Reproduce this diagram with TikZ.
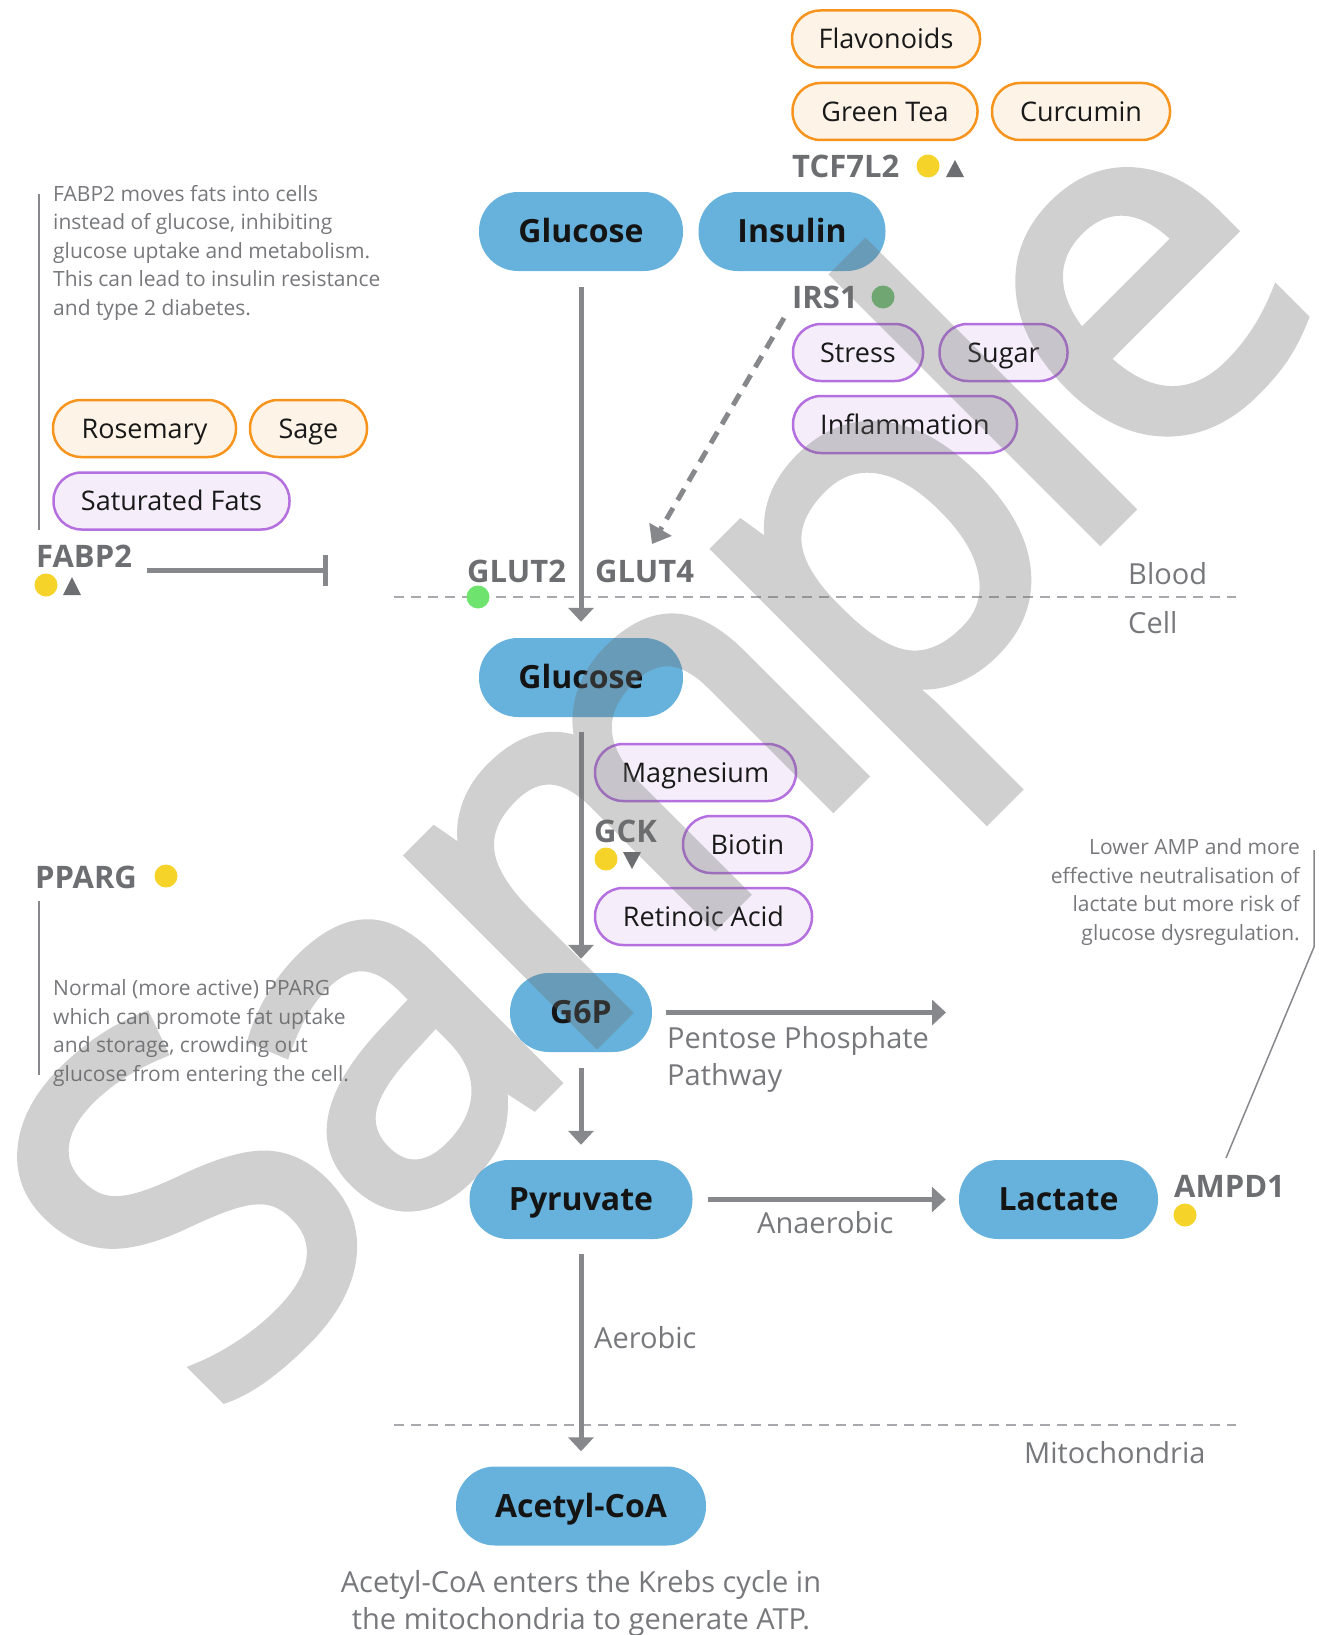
\documentclass[tikz,border=0pt]{standalone}
\usepackage{fontspec}
\setmainfont{Open Sans}
\newfontfamily\wmfont{Open Sans}[FakeBold=2.5, LetterSpace=-4.5]
\usetikzlibrary{arrows.meta}
\definecolor{mainblue}{HTML}{67B2DC}
\definecolor{orangeline}{HTML}{F7941D}
\definecolor{orangefill}{HTML}{FDF3E7}
\definecolor{purpleline}{HTML}{B570E0}
\definecolor{purplefill}{HTML}{F5EEFA}
\definecolor{labelgrey}{HTML}{6D6E71}
\definecolor{notegrey}{HTML}{77787B}
\definecolor{arrowgrey}{HTML}{86888C}
\definecolor{dashgrey}{HTML}{A7A9AC}
\definecolor{dotyellow}{HTML}{F5D328}
\definecolor{dotgreen}{HTML}{72C274}
\definecolor{dotgreenb}{HTML}{6EE46E}
\definecolor{wmgrey}{HTML}{6C6C6C}
\begin{document}
\begin{tikzpicture}[x=1pt,y=-1pt,
 mainnode/.style={fill=mainblue, rounded corners=39pt, minimum height=79pt, inner sep=0pt, text=black!92, font=\fontsize{32}{32}\selectfont\bfseries, text height=22.8pt, text depth=0pt},
 orangepill/.style={draw=orangeline, fill=orangefill, line width=2.5pt, rounded corners=28pt, minimum height=57pt, inner sep=0pt, font=\fontsize{27}{27}\selectfont, text=black!90, text height=19.3pt, text depth=0pt},
 purplepill/.style={orangepill, draw=purpleline, fill=purplefill},
 gene/.style={anchor=base west, inner sep=0pt, text=labelgrey, font=\fontsize{31}{31}\selectfont\bfseries},
 note/.style={anchor=base west, inner sep=0pt, text=notegrey, font=\fontsize{21}{28.5}\selectfont, align=left},
 plain/.style={anchor=base west, inner sep=0pt, text=notegrey, font=\fontsize{29}{37}\selectfont, align=left},
 flow/.style={draw=arrowgrey, line width=5pt, -{Triangle[width=25pt,length=14pt]}},
 dashflow/.style={draw=arrowgrey, line width=5pt, dash pattern=on 13pt off 9pt, -{Triangle[width=25pt,length=17pt]}},
 compart/.style={draw=dashgrey, line width=1.6pt, dash pattern=on 10pt off 7pt},
 leader/.style={draw=arrowgrey, line width=1.5pt},
 ydot/.style={circle, fill=dotyellow, minimum size=23pt, inner sep=0pt},
]
\useasboundingbox (0,0) rectangle (1319,1635);

% compartment lines
\coordinate (bloodL) at (394,597);
\coordinate (bloodR) at (1236,597);
\coordinate (mitoL) at (394,1425);
\coordinate (mitoR) at (1236,1425);
\draw[compart] (bloodL) -- (bloodR);
\draw[compart] (mitoL) -- (mitoR);
\node[plain] (bloodT) at (1128,584) {Blood};
\node[plain] (cellT) at (1128,633) {Cell};
\node[plain] (mitoT) at (1024,1463) {Mitochondria};

% top supplements
\node[orangepill, minimum width=188pt] (flav) at (886,39) {Flavonoids};
\node[orangepill, minimum width=185pt] (gtea) at (885,111.5) {Green Tea};
\node[orangepill, minimum width=178pt] (curc) at (1081,111.5) {Curcumin};
\node[gene] (tcf) at (792,177) {TCF7L2};
\node[ydot] (tcfdot) at (928,166) {};
\fill[labelgrey] (946,177) -- (964,177) -- (955,160) -- cycle;

% main nodes
\node[mainnode, minimum width=204pt] (gluA) at (581,231.5) {Glucose};
\node[mainnode, minimum width=187pt] (ins) at (792,231.5) {Insulin};
\node[mainnode, minimum width=204pt] (gluB) at (581,677.5) {Glucose};
\node[mainnode, minimum width=142pt] (g6p) at (581,1012.5) {G6P};
\node[mainnode, minimum width=223pt] (pyr) at (581,1199.5) {Pyruvate};
\node[mainnode, minimum width=199pt] (lac) at (1058.5,1199.5) {Lactate};
\node[mainnode, minimum width=250pt] (acc) at (581,1506) {Acetyl-CoA};

% IRS1 group
\node[gene] (irs) at (792,308) {IRS1};
\node[circle, fill=dotgreen, minimum size=23pt, inner sep=0pt] (irsdot) at (883,297) {};
\node[purplepill, minimum width=130pt] (stress) at (858,352.5) {Stress};
\node[purplepill, minimum width=128pt] (sugar) at (1003.5,352.5) {Sugar};
\node[purplepill, minimum width=224pt] (infl) at (905,424.5) {Inflammation};

% GLUT
\node[gene] (glut2) at (467,582) {GLUT2};
\node[gene] (glut4) at (595,582) {GLUT4};
\node[circle, fill=dotgreenb, minimum size=23pt, inner sep=0pt] (glutdot) at (478,597) {};

% FABP2 group
\draw[leader] (39,194) -- (39,530);
\node[note] (fabpnote) at (53,315) {FABP2 moves fats into cells\\instead of glucose, inhibiting\\glucose uptake and metabolism.\\This can lead to insulin resistance\\and type 2 diabetes.};
\node[orangepill, minimum width=183pt] (rose) at (144.5,428.5) {Rosemary};
\node[orangepill, minimum width=117pt] (sage) at (308.5,428.5) {Sage};
\node[purplepill, minimum width=236pt] (satf) at (171.5,501) {Saturated Fats};
\node[gene] (fabp) at (36,567) {FABP2};
\node[ydot] (fabpdot) at (46,585) {};
\fill[labelgrey] (63,595) -- (81,595) -- (72,577) -- cycle;
\coordinate (fabpS) at (147,570);
\coordinate (fabpE) at (325,570);
\draw[arrowgrey, line width=5pt] (fabpS) -- (fabpE);
\draw[arrowgrey, line width=5pt] ([yshift=15.5pt]fabpE) -- ([yshift=-15.5pt]fabpE);

% GCK group
\node[purplepill, minimum width=201pt] (mag) at (695.5,772.5) {Magnesium};
\node[gene] (gck) at (594,842) {GCK};
\node[ydot] (gckdot) at (606,859) {};
\fill[labelgrey] (623,852) -- (641,852) -- (632,869) -- cycle;
\node[purplepill, minimum width=129pt] (biot) at (747.5,844.5) {Biotin};
\node[purplepill, minimum width=217pt] (retin) at (703.5,916.5) {Retinoic Acid};

% PPARG group
\node[gene] (pparg) at (35,888) {PPARG};
\node[ydot] (ppargdot) at (166,876) {};
\draw[leader] (39,901) -- (39,1075);
\node[note] (ppargnote) at (53,1081) {Normal (more active) PPARG\\which can promote fat uptake\\and storage, crowding out\\glucose from entering the cell.};

% AMPD1 group
\node[gene] (ampd) at (1174,1197) {AMPD1};
\node[ydot] (ampddot) at (1185,1215) {};
\node[note, anchor=base east, align=right] (ampdnote) at (1300,940) {Lower AMP and more\\effective neutralisation of\\lactate but more risk of\\glucose dysregulation.};
\draw[leader] (1314,850) -- (1314,947) -- (1226,1158);

% flows
\draw[flow, shorten <=16pt, shorten >=16pt] (gluA) -- (gluB);
\draw[flow, shorten <=15pt, shorten >=14pt] (gluB) -- (g6p);
\draw[flow, shorten <=16pt, shorten >=15pt] (g6p) -- (pyr);
\draw[flow, shorten <=15pt, shorten >=15pt] (pyr) -- (acc);
\coordinate (pppEnd) at (946,1012.5);
\draw[flow, shorten <=14pt] (g6p) -- (pppEnd);
\draw[flow, shorten <=15pt, shorten >=13pt] (pyr) -- (lac);
\coordinate (irsStart) at (784,318);
\coordinate (glutTip) at (652,544);
\draw[dashflow] (irsStart) -- (glutTip);

\node[plain] (ppp) at (667,1085) {Pentose Phosphate\\Pathway};
\node[plain] (anaer) at (757,1233) {Anaerobic};
\node[plain] (aer) at (594,1348) {Aerobic};
\node[plain, anchor=base, align=center] (krebs) at (581,1629) {Acetyl-CoA enters the Krebs cycle in\\the mitochondria to generate ATP.};

% watermark
\begin{scope}[transparency group, opacity=0.32]
\node[rotate=45, anchor=base, inner sep=0pt, text=wmgrey, font=\wmfont\fontsize{490}{490}\selectfont] (wm) at (776,862) {Sample};
\end{scope}
\end{tikzpicture}
\end{document}
